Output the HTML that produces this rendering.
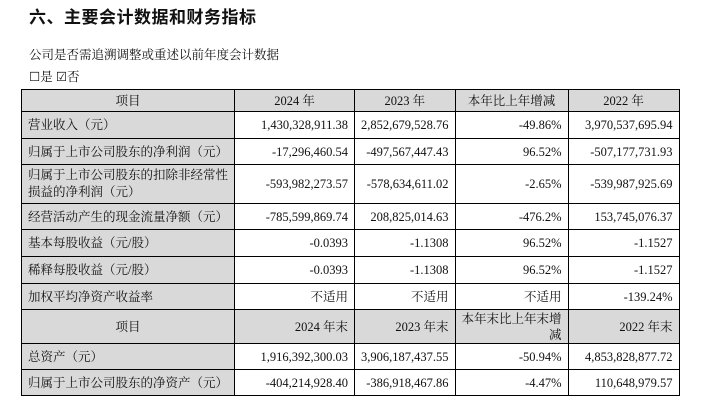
<!DOCTYPE html>
<html><head><meta charset="utf-8"><style>
body{margin:0;width:706px;height:402px;background:#fff;position:relative;font-family:"Liberation Serif","Noto Serif CJK SC",serif;color:#111;overflow:hidden}
.t{position:absolute;left:29px;top:3px;font:bold 17px "Liberation Sans","Noto Sans CJK SC",sans-serif;letter-spacing:0.5px}
.s{position:absolute;left:29px;top:45px;font-size:12.5px}
.c{position:absolute;left:29px;top:67px;font-size:12.5px}
table{position:absolute;left:21px;top:89px;border-collapse:collapse;font-size:12.5px}
td{border:1px solid #000;padding:0 6px;text-align:right;line-height:14px}
td.l{background:#d9d9d9;text-align:left;padding-left:6px;white-space:nowrap}
tr.h td{background:#d9d9d9;text-align:center}
tr.h td.r{text-align:right}
</style></head><body>
<div class="t">六、主要会计数据和财务指标</div>
<div class="s">公司是否需追溯调整或重述以前年度会计数据</div>
<div class="c">☐是 ☑否</div>
<table>
<colgroup><col style="width:212px"><col style="width:120px"><col style="width:100px"><col style="width:113px"><col style="width:111px"></colgroup>
<tr class="h" style="height:22px"><td>项目</td><td>2024 年</td><td>2023 年</td><td>本年比上年增减</td><td>2022 年</td></tr>
<tr style="height:27px"><td class="l">营业收入（元）</td><td>1,430,328,911.38</td><td>2,852,679,528.76</td><td>-49.86%</td><td>3,970,537,695.94</td></tr>
<tr style="height:26px"><td class="l">归属于上市公司股东的净利润（元）</td><td>-17,296,460.54</td><td>-497,567,447.43</td><td>96.52%</td><td>-507,177,731.93</td></tr>
<tr style="height:39px"><td class="l" style="line-height:17px">归属于上市公司股东的扣除非经常性<br>损益的净利润（元）</td><td>-593,982,273.57</td><td>-578,634,611.02</td><td>-2.65%</td><td>-539,987,925.69</td></tr>
<tr style="height:26px"><td class="l">经营活动产生的现金流量净额（元）</td><td>-785,599,869.74</td><td>208,825,014.63</td><td>-476.2%</td><td>153,745,076.37</td></tr>
<tr style="height:27px"><td class="l">基本每股收益（元/股）</td><td>-0.0393</td><td>-1.1308</td><td>96.52%</td><td>-1.1527</td></tr>
<tr style="height:27px"><td class="l">稀释每股收益（元/股）</td><td>-0.0393</td><td>-1.1308</td><td>96.52%</td><td>-1.1527</td></tr>
<tr style="height:26px"><td class="l">加权平均净资产收益率</td><td>不适用</td><td>不适用</td><td>不适用</td><td>-139.24%</td></tr>
<tr class="h" style="height:34px"><td>项目</td><td class="r">2024 年末</td><td class="r">2023 年末</td><td class="r" style="line-height:16px">本年末比上年末增<br>减</td><td class="r">2022 年末</td></tr>
<tr style="height:26px"><td class="l">总资产（元）</td><td>1,916,392,300.03</td><td>3,906,187,437.55</td><td>-50.94%</td><td>4,853,828,877.72</td></tr>
<tr style="height:26px"><td class="l">归属于上市公司股东的净资产（元）</td><td>-404,214,928.40</td><td>-386,918,467.86</td><td>-4.47%</td><td>110,648,979.57</td></tr>
</table>
</body></html>
